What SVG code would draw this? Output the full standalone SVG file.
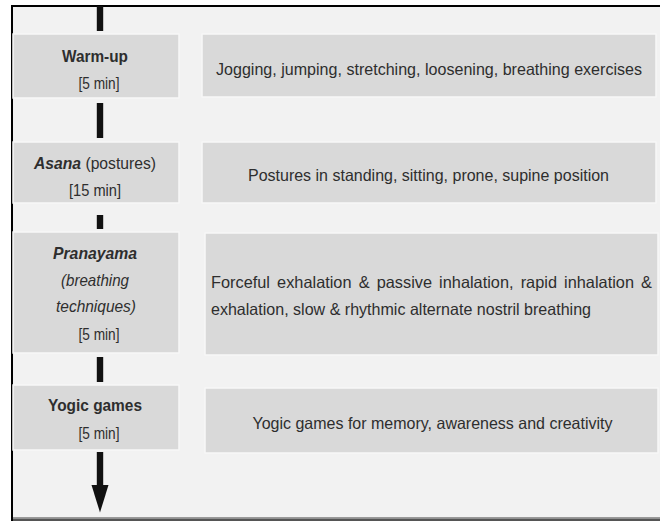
<svg xmlns="http://www.w3.org/2000/svg" width="660" height="521" viewBox="0 0 660 521">
<style>
.bg{fill:#f2f2f2}
.box{fill:#d9d9d9;stroke:#f7f7f7;stroke-width:1.5}
text{font-family:"Liberation Sans",Arial,sans-serif;font-size:16.5px;fill:#2e2e2e}
.c{text-anchor:middle}
.b{font-weight:bold}
.i{font-style:italic}
.bar{fill:#111}
</style>
<rect x="0" y="0" width="660" height="521" fill="#ffffff"/>
<rect class="bg" x="12" y="6" width="648" height="511"/>
<rect x="12" y="517" width="648" height="1.5" fill="#9a9a9a"/>
<rect x="12" y="518.5" width="648" height="2.5" fill="#555555"/>
<rect x="11" y="5" width="649" height="2" fill="#000"/>
<rect x="11" y="5" width="2" height="516" fill="#000"/>
<g id="connectors">
<rect class="bar" x="96.8" y="6" width="6.4" height="25"/>
<rect class="bar" x="96.8" y="103" width="6.4" height="35"/>
<rect class="bar" x="96.8" y="215" width="6.4" height="14"/>
<rect class="bar" x="96.8" y="357" width="6.4" height="25"/>
<rect class="bar" x="96.8" y="452" width="6.4" height="34"/>
<polygon class="bar" points="91.5,485 108.5,485 100,512.5"/>
</g>
<g id="warmup">
<rect class="box" x="13" y="34" width="166" height="64"/>
<text class="c b" x="95" y="62" textLength="66" lengthAdjust="spacingAndGlyphs">Warm-up</text>
<text class="c" x="99" y="89" textLength="41" lengthAdjust="spacingAndGlyphs">[5 min]</text>
</g>
<g id="warmup-desc">
<rect class="box" x="202" y="34" width="454" height="63"/>
<text class="c" x="429" y="75" textLength="426" lengthAdjust="spacingAndGlyphs">Jogging, jumping, stretching, loosening, breathing exercises</text>
</g>
<g id="asana">
<rect class="box" x="13" y="142" width="166" height="61"/>
<text class="c" x="95" y="169" textLength="122" lengthAdjust="spacingAndGlyphs"><tspan class="b i">Asana</tspan> (postures)</text>
<text class="c" x="95" y="196" textLength="52" lengthAdjust="spacingAndGlyphs">[15 min]</text>
</g>
<g id="asana-desc">
<rect class="box" x="202" y="142" width="454" height="61"/>
<text class="c" x="428.5" y="181" textLength="361" lengthAdjust="spacingAndGlyphs">Postures in standing, sitting, prone, supine position</text>
</g>
<g id="pranayama">
<rect class="box" x="13" y="232" width="166" height="121"/>
<text class="c b i" x="95" y="259" textLength="84" lengthAdjust="spacingAndGlyphs">Pranayama</text>
<text class="c i" x="95" y="286" textLength="68" lengthAdjust="spacingAndGlyphs">(breathing</text>
<text class="c i" x="96" y="312" textLength="80" lengthAdjust="spacingAndGlyphs">techniques)</text>
<text class="c" x="99" y="340" textLength="41" lengthAdjust="spacingAndGlyphs">[5 min]</text>
</g>
<g id="pranayama-desc">
<rect class="box" x="205" y="233" width="453" height="122"/>
<text x="211" y="288" word-spacing="2.6" textLength="441" lengthAdjust="spacingAndGlyphs">Forceful exhalation &amp; passive inhalation, rapid inhalation &amp;</text>
<text x="211" y="315" textLength="380" lengthAdjust="spacingAndGlyphs">exhalation, slow &amp; rhythmic alternate nostril breathing</text>
</g>
<g id="yogic">
<rect class="box" x="13" y="385" width="166" height="65"/>
<text class="c b" x="95" y="411" textLength="94" lengthAdjust="spacingAndGlyphs">Yogic games</text>
<text class="c" x="99" y="439" textLength="41" lengthAdjust="spacingAndGlyphs">[5 min]</text>
</g>
<g id="yogic-desc">
<rect class="box" x="205" y="388" width="453" height="65"/>
<text class="c" x="432.5" y="429" textLength="360" lengthAdjust="spacingAndGlyphs">Yogic games for memory, awareness and creativity</text>
</g>
</svg>
